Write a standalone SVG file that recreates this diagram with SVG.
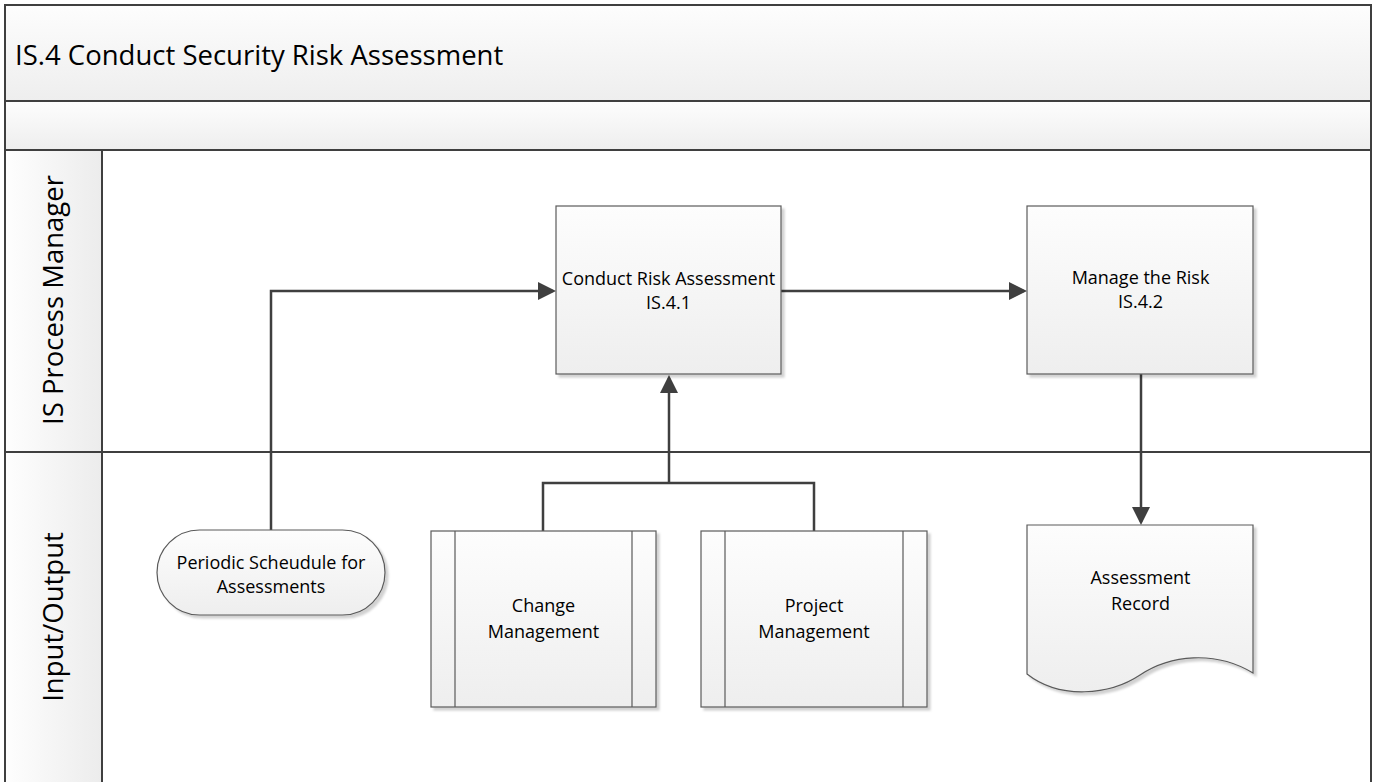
<svg xmlns="http://www.w3.org/2000/svg" width="1373" height="782" viewBox="0 0 1373 782">
  <defs>
    <linearGradient id="gradV" x1="0" y1="0" x2="0" y2="1">
      <stop offset="0" stop-color="#fdfdfd"/>
      <stop offset="1" stop-color="#eeeeee"/>
    </linearGradient>
    <linearGradient id="gradH" x1="0" y1="0" x2="1" y2="0">
      <stop offset="0" stop-color="#fefefe"/>
      <stop offset="1" stop-color="#ececec"/>
    </linearGradient>
    <linearGradient id="shapeFill" x1="0" y1="0" x2="0" y2="1">
      <stop offset="0" stop-color="#fdfdfd"/>
      <stop offset="1" stop-color="#eeeeee"/>
    </linearGradient>
    <filter id="shadow" x="-5%" y="-5%" width="115%" height="115%">
      <feDropShadow dx="3" dy="3" stdDeviation="1.2" flood-color="#000" flood-opacity="0.18"/>
    </filter>
    <marker id="arrow" viewBox="0 0 18 18" refX="15" refY="9" markerWidth="18" markerHeight="18" markerUnits="userSpaceOnUse" orient="auto">
      <path d="M0,0 L18,9 L0,18 Z" fill="#3f3f3f"/>
    </marker>
  </defs>
  <style>
    .frame { stroke: #3f3f3f; stroke-width: 2; fill: none; }
    .shape { fill: url(#shapeFill); stroke: #5a5a5a; stroke-width: 1.2; filter: url(#shadow); }
    .inner { stroke: #5a5a5a; stroke-width: 1.2; fill: none; }
    .conn { stroke: #3f3f3f; stroke-width: 2.5; fill: none; }
    .title { font-family: "Open Sans", "Liberation Sans", sans-serif; font-size: 27.5px; fill: #000; }
    .lane { font-family: "Open Sans", "Liberation Sans", sans-serif; font-size: 27.5px; fill: #000; text-anchor: middle; }
    .label { font-family: "Open Sans", "Liberation Sans", sans-serif; font-size: 18px; fill: #000; text-anchor: middle; }
  </style>

  <rect width="1373" height="782" fill="#ffffff"/>

  <!-- pool header and bands -->
  <g id="pool">
    <rect x="5" y="5" width="1366" height="96" fill="url(#gradV)"/>
    <rect x="5" y="101" width="1366" height="49" fill="url(#gradV)"/>
    <text class="title" x="15" y="65">IS.4 Conduct Security Risk Assessment</text>
  </g>

  <g id="lane-process-manager">
    <rect x="5" y="150" width="97" height="302" fill="url(#gradH)"/>
    <text class="lane" transform="translate(63,300) rotate(-90)">IS Process Manager</text>
  </g>

  <g id="lane-input-output">
    <rect x="5" y="452" width="97" height="330" fill="url(#gradH)"/>
    <text class="lane" transform="translate(63,617) rotate(-90)">Input/Output</text>
  </g>

  <!-- swimlane frame lines -->
  <g id="frame">
    <path class="frame" d="M5,782 V5 H1371 V782"/>
    <path class="frame" d="M5,101 H1371"/>
    <path class="frame" d="M5,150 H1371"/>
    <path class="frame" d="M5,452 H1371"/>
    <path class="frame" d="M102,150 V782"/>
  </g>

  <!-- connectors -->
  <g id="connectors">
    <path class="conn" d="M271,530 V291 H553" marker-end="url(#arrow)"/>
    <path class="conn" d="M781,291 H1024" marker-end="url(#arrow)"/>
    <path class="conn" d="M1141,374 V522" marker-end="url(#arrow)"/>
    <path class="conn" d="M543,531 V483 H814 V531"/>
    <path class="conn" d="M669,483 V378" marker-end="url(#arrow)"/>
  </g>

  <g id="conduct-risk-assessment">
    <rect class="shape" x="556" y="206" width="225" height="168"/>
    <text class="label" x="668.5" y="285">Conduct Risk Assessment</text>
    <text class="label" x="668.5" y="309">IS.4.1</text>
  </g>

  <g id="manage-the-risk">
    <rect class="shape" x="1027" y="206" width="226" height="168"/>
    <text class="label" x="1140.5" y="284">Manage the Risk</text>
    <text class="label" x="1140.5" y="308">IS.4.2</text>
  </g>

  <g id="periodic-schedule">
    <rect class="shape" x="157" y="530" width="228" height="85" rx="42.5" ry="42.5"/>
    <text class="label" x="271" y="569">Periodic Scheudule for</text>
    <text class="label" x="271" y="593">Assessments</text>
  </g>

  <g id="change-management">
    <rect class="shape" x="431" y="531" width="225" height="176"/>
    <path class="inner" d="M455,531 V707 M632,531 V707"/>
    <text class="label" x="543.5" y="612">Change</text>
    <text class="label" x="543.5" y="638">Management</text>
  </g>

  <g id="project-management">
    <rect class="shape" x="701" y="531" width="226" height="176"/>
    <path class="inner" d="M725,531 V707 M903,531 V707"/>
    <text class="label" x="814" y="612">Project</text>
    <text class="label" x="814" y="638">Management</text>
  </g>

  <g id="assessment-record">
    <path class="shape" d="M1027,525 H1253 V673 C1215,650 1170,655 1140,675 C1110,695 1060,700 1027,674 Z"/>
    <text class="label" x="1140.5" y="584">Assessment</text>
    <text class="label" x="1140.5" y="610">Record</text>
  </g>
</svg>
